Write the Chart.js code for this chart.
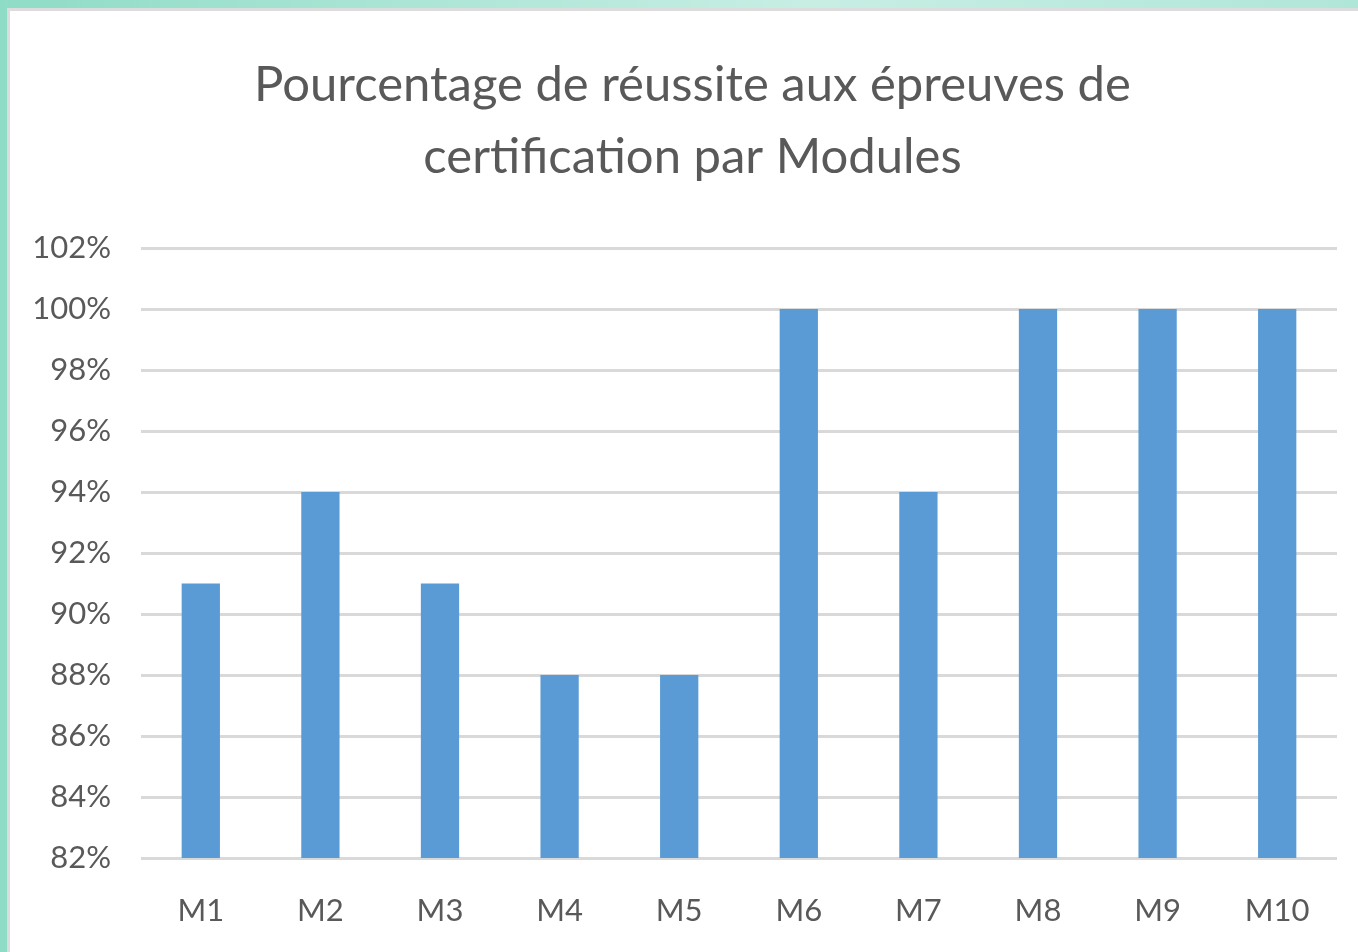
<!DOCTYPE html>
<html>
<head>
<meta charset="utf-8">
<script src="https://cdn.jsdelivr.net/npm/chart.js@4"></script>
<style>
  html, body { margin: 0; padding: 0; }
  body {
    width: 1358px; height: 952px; overflow: hidden;
    background: linear-gradient(90deg, #8fdcc6 0%, #c8eee4 60%, #b0e6d8 100%);
  }
  .frame {
    position: absolute; left: 7px; top: 8px; width: 1351px; height: 944px;
    background: #dcdcdc;
  }
  .card {
    position: absolute; left: 3px; top: 3px; width: 1348px; height: 941px;
    background: #ffffff;
  }
</style>
</head>
<body>
<div class="frame"><div class="card"><canvas id="chart" width="1348" height="941"></canvas></div></div>
<script>
// categories et valeurs (en %)
const modules = ['M1', 'M2', 'M3', 'M4', 'M5', 'M6', 'M7', 'M8', 'M9', 'M10'];
const reussite = [91, 94, 91, 88, 88, 100, 94, 100, 100, 100];
const titre = ['Pourcentage de réussite aux épreuves de', 'certification par Modules'];

const textColor = '#595959';
const fontFamily = 'Lato, "Open Sans", sans-serif';

// décale un peu le titre vers la droite, comme dans Excel
const titleShift = {
  id: 'titleShift',
  afterLayout(chart) {
    if (chart.titleBlock) chart.titleBlock.left += 38;
  }
};

const ctx = document.getElementById('chart').getContext('2d');
new Chart(ctx, {
  type: 'bar',
  data: {
    labels: modules,
    datasets: [{
      data: reussite,
      backgroundColor: '#5b9bd5',
      borderWidth: 0,
      barPercentage: 0.32,
      categoryPercentage: 1
    }]
  },
  options: {
    responsive: false,
    animation: false,
    layout: { padding: { left: 0, right: 21, top: 0, bottom: 0 } },
    plugins: {
      legend: { display: false },
      tooltip: { enabled: false },
      title: {
        display: true,
        text: titre,
        color: textColor,
        font: { family: fontFamily, size: 49, weight: 'normal', lineHeight: 1.47 },
        padding: { top: 38, bottom: 55 }
      }
    },
    scales: {
      x: {
        afterFit: (scale) => { scale.height = 94; },
        grid: { display: false, drawTicks: false },
        border: { display: false },
        ticks: { color: textColor, font: { family: fontFamily, size: 31 }, padding: 34 }
      },
      y: {
        min: 82,
        max: 102,
        afterFit: (scale) => { scale.width = 131; },
        grid: { color: '#d9d9d9', lineWidth: 3, drawTicks: false },
        border: { display: false },
        ticks: {
          stepSize: 2,
          color: textColor,
          font: { family: fontFamily, size: 31 },
          padding: 30,
          callback: (v) => v + '%'
        }
      }
    }
  },
  plugins: [titleShift]
});
</script>
</body>
</html>
